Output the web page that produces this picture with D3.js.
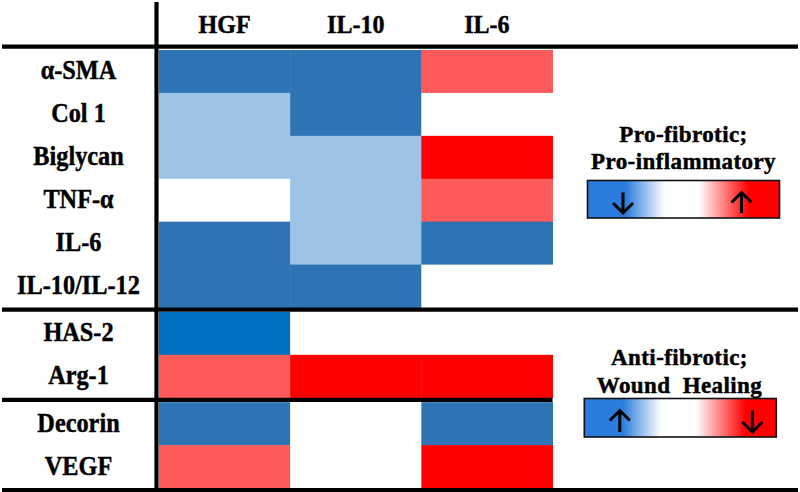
<!DOCTYPE html>
<html>
<head>
<meta charset="utf-8">
<script src="https://cdn.jsdelivr.net/npm/d3@7"></script>
<style>
  html, body { margin: 0; padding: 0; background: #fff; }
  svg { display: block; }
  text { font-family: "Liberation Serif", "Times New Roman", serif; font-weight: bold; fill: #000; stroke: #000; stroke-width: 0.45px; }
</style>
</head>
<body>
<svg id="chart" width="800" height="492"></svg>
<script>
// ---- data ----
const columns = ["HGF", "IL-10", "IL-6"];
const rows = ["α-SMA", "Col 1", "Biglycan", "TNF-α", "IL-6", "IL-10/IL-12", "HAS-2", "Arg-1", "Decorin", "VEGF"];
const rowGroups = [0, 0, 0, 0, 0, 0, 1, 1, 2, 2];
// levels: -3 strong blue, -2 blue, -1 light blue, 0 none, 1 light red, 2 red
const hgfValues  = [-2, -1, -1, 0, -2, -2, -3, 1, -2, 1];
const il10Values = [-2, -2, -1, -1, -1, -2, 0, 2, 0, 0];
const il6Values  = [1, 0, 2, 1, -2, 0, 0, 2, -2, 2];
const levels = [-3, -2, -1, 0, 1, 2];
const levelColors = ["#0070C0", "#2E74B5", "#9DC3E6", "#FFFFFF", "#FF5B5B", "#FF0000"];
const legendTitles = [["Pro-fibrotic;", "Pro-inflammatory"], ["Anti-fibrotic;", "Wound  Healing"]];
const legendArrows = [["down", "up"], ["up", "down"]];

const seriesValues = [hgfValues, il10Values, il6Values];
const cells = [];
rows.forEach((r, i) => columns.forEach((c, j) => cells.push({ row: r, col: c, i, g: rowGroups[i], v: seriesValues[j][i] })));

// ---- layout ----
const svg = d3.select("#chart");
const sep = 4.4;
const gridTop = 50, gridBottom = 488;
const nGroups = d3.max(rowGroups);

const x = d3.scaleBand().domain(columns).range([159, 552.5]).padding(0);
const yBand = d3.scaleBand().domain(rows).range([gridTop, gridBottom - nGroups * sep]).padding(0);
const y = (r, i) => yBand(r) + rowGroups[i] * sep;
const color = d3.scaleOrdinal().domain(levels).range(levelColors);

// cells
svg.append("g").selectAll("rect").data(cells).join("rect")
  .attr("x", d => x(d.col))
  .attr("y", d => y(d.row, d.i))
  .attr("width", x.bandwidth() + 0.5)
  .attr("height", yBand.bandwidth() + 0.5)
  .attr("fill", d => color(d.v));

// column headers
svg.append("g").selectAll("text").data(columns).join("text")
  .attr("transform", d => `translate(${x(d) + x.bandwidth() / 2},33.3) scale(0.96,1)`)
  .attr("text-anchor", "middle")
  .style("font-size", "25px")
  .text(d => d);

// row labels
svg.append("g").selectAll("text").data(rows).join("text")
  .attr("transform", (d, i) => `translate(78.5,${y(d, i) + yBand.bandwidth() / 2 + 8}) scale(0.9,1)`)
  .attr("text-anchor", "middle")
  .style("font-size", "27px")
  .text(d => d);

// grid lines
const lines = svg.append("g").attr("stroke", "#000").attr("stroke-width", 4.2);
lines.append("line").attr("x1", 156.5).attr("x2", 156.5).attr("y1", 2).attr("y2", 492);
lines.append("line").attr("x1", 2).attr("x2", 798).attr("y1", 46.6).attr("y2", 46.6);
const g1End = y(rows[5], 5) + yBand.bandwidth();
const g2End = y(rows[7], 7) + yBand.bandwidth();
lines.append("line").attr("x1", 2).attr("x2", 798).attr("y1", g1End + sep / 2).attr("y2", g1End + sep / 2);
lines.append("line").attr("x1", 2).attr("x2", 552.5).attr("y1", g2End + sep / 2).attr("y2", g2End + sep / 2);
lines.append("line").attr("x1", 2).attr("x2", 798).attr("y1", 490).attr("y2", 490);

// legend gradient
const defs = svg.append("defs");
const grad = defs.append("linearGradient").attr("id", "lg").attr("x1", "0%").attr("x2", "100%");
[[0, "#2B7CDC"], [0.2, "#2B7CDC"], [0.4, "#FFFFFF"], [0.58, "#FFFFFF"], [0.84, "#FF0000"], [1, "#FF0000"]]
  .forEach(([o, c]) => grad.append("stop").attr("offset", o).attr("stop-color", c));

const legends = [
  { cx: 683.5, t1: 141.7, t2: 169.3, bx: 587.5, by: 180.5, bw: 192, bh: 37.5 },
  { cx: 679.5, t1: 365, t2: 392.7, bx: 584.3, by: 398.5, bw: 192, bh: 38.5 }
];
legends.forEach((L, k) => {
  const g = svg.append("g");
  g.append("text").attr("x", L.cx).attr("y", L.t1).attr("text-anchor", "middle")
    .style("font-size", "23px").style("letter-spacing", "0.4px").text(legendTitles[k][0]);
  g.append("text").attr("x", L.cx).attr("y", L.t2).attr("text-anchor", "middle")
    .style("font-size", "23px").style("letter-spacing", "0.4px").style("white-space", "pre")
    .text(legendTitles[k][1]);
  g.append("rect").attr("x", L.bx).attr("y", L.by).attr("width", L.bw).attr("height", L.bh)
    .attr("fill", "url(#lg)").attr("stroke", "#111").attr("stroke-width", 1.6);
  const ax = [L.bx + 35.5, L.bx + L.bw - (k === 0 ? 38 : 24)];
  const yt = L.by + 12, yb = L.by + L.bh - 5;
  legendArrows[k].forEach((dir, j) => {
    const cx = ax[j];
    let p;
    if (dir === "down") p = `M${cx},${yt}V${yb}M${cx - 10},${yb - 10}L${cx},${yb}L${cx + 10},${yb - 10}`;
    else p = `M${cx},${yb}V${yt}M${cx - 10},${yt + 10}L${cx},${yt}L${cx + 10},${yt + 10}`;
    g.append("path").attr("d", p).attr("fill", "none").attr("stroke", "#000").attr("stroke-width", 3);
  });
});
</script>
</body>
</html>
